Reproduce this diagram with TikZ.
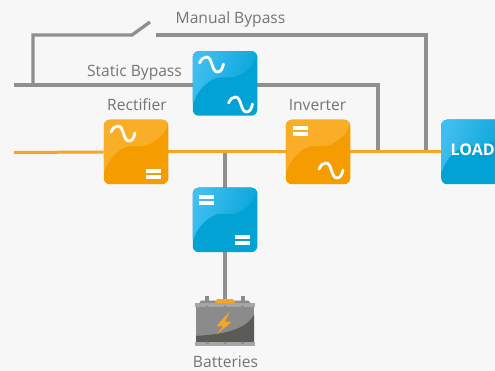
\documentclass[tikz,border=0pt]{standalone}
\usepackage{fontspec}
\setmainfont{Open Sans}
\usetikzlibrary{backgrounds}
\definecolor{bgc}{HTML}{F7F7F7}
\definecolor{graywire}{HTML}{8F8F8F}
\definecolor{orangewire}{HTML}{F5A623}
\definecolor{bluebase}{HTML}{02A2D5}
\definecolor{bluelight}{HTML}{40BEF0}
\definecolor{orangebase}{HTML}{F59D00}
\definecolor{orangelight}{HTML}{FAAD26}
\definecolor{labelc}{HTML}{747474}
\definecolor{battgray}{HTML}{8B8B8B}
\definecolor{battdark}{HTML}{5A5A57}
\definecolor{battrim}{HTML}{A6A6A6}
\newcommand{\glosspath}{
  (path picture bounding box.north west) -- (path picture bounding box.north east)
  -- ([yshift=-3pt]path picture bounding box.north east)
  .. controls +(-6pt,-17pt) and +(9pt,0pt) .. ([xshift=1pt,yshift=6pt]path picture bounding box.center)
  .. controls +(-15pt,0pt) and +(5pt,17pt) .. ([yshift=9.5pt]path picture bounding box.south west)
  -- cycle}
\tikzset{
  x=1pt,y=-1pt,
  wire/.style={line width=3.3pt,draw=graywire,miter limit=10},
  acwire/.style={line width=3pt,draw=orangewire},
  lbl/.style={text=labelc,font=\fontsize{15.6}{18}\selectfont,inner sep=0pt},
  bluebox/.style={fill=bluebase,rounded corners=6pt,minimum width=64.5pt,minimum height=64.5pt,inner sep=0pt,
    path picture={\fill[left color=bluelight,right color=bluebase,shading angle=70] \glosspath;}},
  orangebox/.style={fill=orangebase,rounded corners=6pt,minimum width=64.5pt,minimum height=64.5pt,inner sep=0pt,
    path picture={\fill[orangelight] \glosspath;}},
  acwave/.style={draw=white,line width=2.8pt,line cap=round,fill=none},
  dcbar/.style={fill=white,draw=none}
}
\newcommand{\acsym}[2]{\draw[acwave,shift={(#1,#2)}] (0,0) .. controls (2,-4) and (4,-6) .. (7,-6) .. controls (13,-6) and (12,9) .. (18,9) .. controls (21,9) and (23,6) .. (24,1);}
\newcommand{\dcsym}[2]{\fill[dcbar] (#1,#2) rectangle ++(15,4); \fill[dcbar] (#1,#2+6.5) rectangle ++(15,4);}
\begin{document}
\begin{tikzpicture}
\useasboundingbox (0,0) rectangle (495,371);
% nodes
\node[bluebox] (static) at (225,83.5) {};
\node[orangebox] (rect) at (136,152) {};
\node[orangebox] (inv) at (318,152) {};
\node[bluebox] (dcdc) at (225,220) {};
\node[bluebox,minimum width=64.5pt,anchor=west] (load) at (441,152) {};
\node[anchor=west,text=white,inner sep=0pt,font=\bfseries\fontsize{16}{18}\selectfont] (loadtxt) at (450.5,150) {LOAD};
\node[lbl,anchor=base] (lmb) at (230.5,23.5) {Manual Bypass};
\node[lbl,anchor=base] (lsb) at (134.5,77) {Static Bypass};
\node[lbl,anchor=base] (lre) at (137,110.5) {Rectifier};
\node[lbl,anchor=base] (lin) at (317.5,110.5) {Inverter};
\node[lbl,anchor=base] (lba) at (225.5,367.5) {Batteries};
% symbols
\acsym{199.5}{63}
\acsym{228.5}{103}
\acsym{111}{132}
\dcsym{146}{169}
\dcsym{293}{126}
\acsym{319}{169}
\dcsym{199}{195}
\dcsym{235}{235}
% coordinates
\coordinate (acin) at (14,152.5);
\coordinate (byin) at (14,85);
\coordinate (tap) at (33,85);
\coordinate (mc) at (33,35);
\coordinate (swl) at (132,35);
\coordinate (swt) at (150,22);
\coordinate (swr) at (156,35);
\coordinate (mr) at (426,35);
\coordinate (mt) at (426,152);
\coordinate (sr) at (378,85);
\coordinate (st) at (378,152);
\coordinate (dctap) at (225,152);
\coordinate (batt) at (225,300);
\begin{pgfonlayer}{background}
\fill[bgc] (0,0) rectangle (495,371);
\draw[wire] (byin) -- (sr) -- (st);
\draw[wire] (tap) -- (mc) -- (swl) -- (swt);
\draw[wire] (swr) -- (mr) -- (mt);
\draw[wire] (dctap) -- (dcdc.north);
\draw[wire] (dcdc.south) -- (batt);
\draw[acwire] (acin) -- (rect.west);
\draw[acwire] (rect.east) -- (inv.west);
\draw[acwire] (inv.east) -- (load.west);
\end{pgfonlayer}
% battery
\fill[battgray] (205,296) rectangle (209,302);
\fill[battgray] (241,296) rectangle (245,302);
\fill[battgray] (199,303.5) -- (201,300.5) -- (248,300.5) -- (251,303.5) -- cycle;
\fill[orangewire] (215,303) -- (217,299) -- (233,299) -- (235,303) -- cycle;
\fill[battgray] (196,307) rectangle (254,342);
\fill[battdark] (196,336) .. controls (225,334) and (245,330) .. (254,315) -- (254,342) -- (196,342) -- cycle;
\fill[battrim] (195,303) rectangle (255,307);
\fill[battrim] (195,342) rectangle (255,346);
\foreach \bx in {207.5,225,242.5}{\fill[battdark!70] (\bx,307) circle (1.6pt); \fill[battdark!70] (\bx,343) circle (1.6pt);}
\fill[orangewire] (230,311) -- (216.5,326) -- (223,326.5) -- (216.5,334.5) -- (231.5,322) -- (225,321.5) -- cycle;
\end{tikzpicture}
\end{document}
